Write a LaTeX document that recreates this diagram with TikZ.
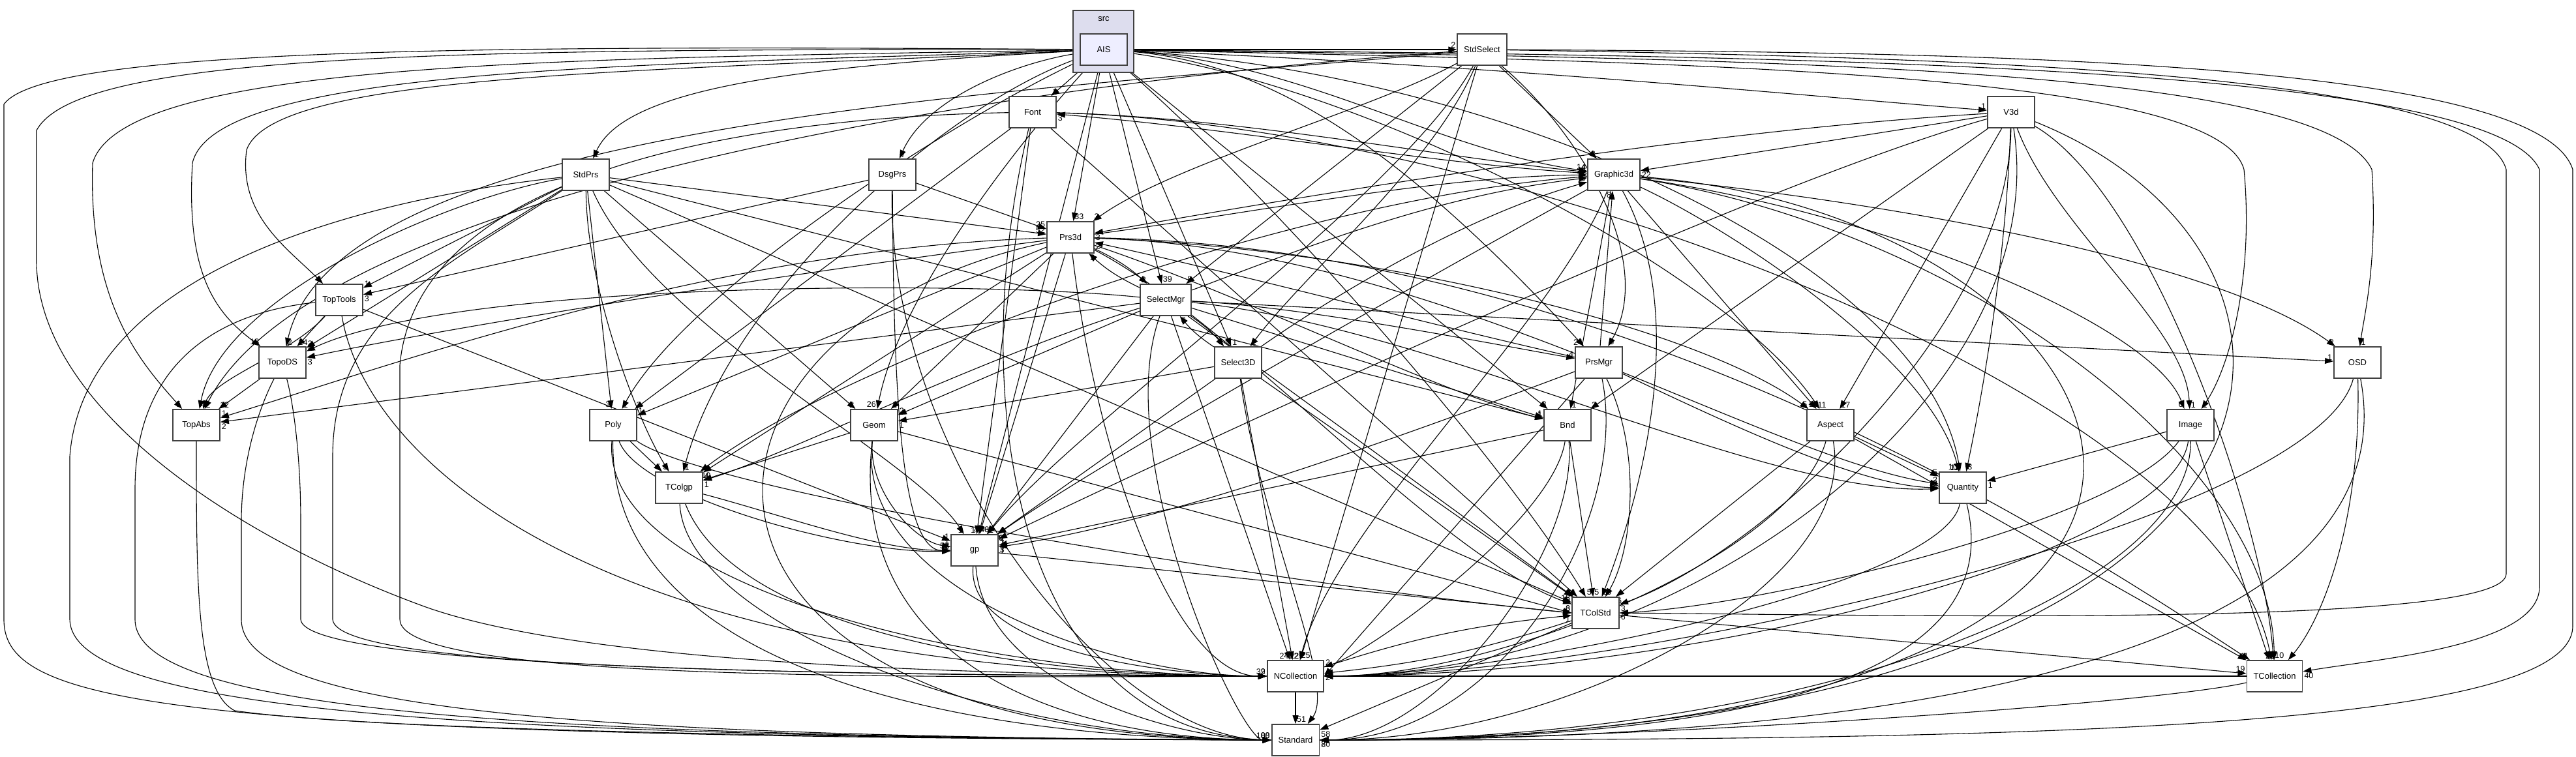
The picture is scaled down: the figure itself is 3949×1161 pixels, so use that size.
\documentclass[tikz,border=0pt]{standalone}
\usepackage{fontspec}
\setmainfont{Liberation Sans}
\usetikzlibrary{arrows.meta}
\definecolor{clfill}{HTML}{DDDDEE}
\definecolor{aisfill}{HTML}{EEEEFF}
\definecolor{nborder}{HTML}{404040}
\pgfdeclarelayer{bg}
\pgfsetlayers{bg,main}
\begin{document}
\begin{tikzpicture}[x=1pt,y=-1pt,
  nd/.style={draw=nborder, line width=1.8pt, fill=white, minimum width=72pt, minimum height=48pt, inner xsep=10pt, font=\fontsize{13}{15}\selectfont},
  e/.style={draw=black, line width=1.1pt, -{Triangle[length=13pt,width=9pt]}},
  lb/.style={pos=1, inner sep=1.5pt, font=\fontsize{12.5}{14}\selectfont},
  tr/.style={lb, anchor=south west},
  tl/.style={lb, anchor=south east},
  br/.style={lb, anchor=north west},
  bl/.style={lb, anchor=north east},
]
\useasboundingbox (0,0) rectangle (3949,1161);
% cluster
\node[draw=nborder, line width=1.8pt, fill=clfill, minimum width=93pt, minimum height=95pt, inner sep=0pt] (src) at (1691.5,63.5) {};
\node[font=\fontsize{13}{15}\selectfont] (srclbl) at (1692,29) {src};
% nodes
\node[nd, fill=aisfill] (AIS) at (1692,76) {AIS};
\node[nd] (StdSelect) at (2272,76) {StdSelect};
\node[nd] (Font) at (1583,172) {Font};
\node[nd] (V3d) at (3083,172) {V3d};
\node[nd] (DsgPrs) at (1368,268) {DsgPrs};
\node[nd] (StdPrs) at (898,268) {StdPrs};
\node[nd] (Graphic3d) at (2474,268) {Graphic3d};
\node[nd] (Prs3d) at (1641,364) {Prs3d};
\node[nd] (TopTools) at (520,460) {TopTools};
\node[nd] (SelectMgr) at (1787,460) {SelectMgr};
\node[nd] (TopoDS) at (433,556) {TopoDS};
\node[nd] (Select3D) at (1898,556) {Select3D};
\node[nd] (PrsMgr) at (2451,556) {PrsMgr};
\node[nd] (OSD) at (3614,556) {OSD};
\node[nd] (TopAbs) at (301,652) {TopAbs};
\node[nd] (Poly) at (940,652) {Poly};
\node[nd] (Geom) at (1340,652) {Geom};
\node[nd] (Bnd) at (2403,652) {Bnd};
\node[nd] (Aspect) at (2806,652) {Aspect};
\node[nd] (Image) at (3358,652) {Image};
\node[nd] (TColgp) at (1041,748) {TColgp};
\node[nd] (Quantity) at (3009,748) {Quantity};
\node[nd] (gp) at (1494,844) {gp};
\node[nd] (TColStd) at (2446,940) {TColStd};
\node[nd] (NCollection) at (1986,1037) {NCollection};
\node[nd] (TCollection) at (3487,1037) {TCollection};
\node[nd] (Standard) at (1986,1135) {Standard};

\begin{pgfonlayer}{bg}
% ---------------- AIS
\draw[e] (AIS) -- (StdSelect) node[tl]{2};
\draw[e] (AIS) -- (Font) node[tr]{1};
\draw[e] (AIS) .. controls (1560,95) and (1420,150) .. (DsgPrs) node[tr]{7};
\draw[e] (AIS) .. controls (1250,100) and (960,130) .. (StdPrs) node[tr]{1};
\draw[e] (AIS) .. controls (2300,100) and (2800,150) .. (V3d) node[tl]{1};
\draw[e] (AIS) .. controls (2000,95) and (2200,230) .. (Graphic3d) node[tl]{14};
\draw[e] (AIS) -- (Prs3d) node[tr]{33};
\draw[e] (AIS) -- (SelectMgr) node[tr]{39};
\draw[e] (AIS) -- (Select3D) node[tr]{1};
\draw[e] (AIS) .. controls (1950,95) and (2150,230) .. (PrsMgr) node[tl]{24};
\draw[e] (AIS) .. controls (1000,110) and (420,110) .. (378,230) .. controls (365,330) and (440,380) .. (TopTools) node[tl]{4};
\draw[e] (AIS) .. controls (1000,100) and (330,100) .. (295,250) .. controls (285,420) and (330,480) .. (TopoDS) node[tl]{18};
\draw[e] (AIS) .. controls (900,90) and (190,90) .. (142,250) .. controls (135,470) and (220,560) .. (TopAbs) node[tl]{5};
\draw[e] (AIS) .. controls (800,70) and (70,70) .. (6,160) -- (6,950) .. controls (6,1080) and (250,1130) .. (Standard.west) node[tl]{88};
\draw[e] (AIS) .. controls (700,75) and (120,80) .. (56,200) -- (56,400) .. controls (56,620) and (350,820) .. (650,930) .. controls (900,1020) and (1500,1035) .. (NCollection.west) node[tl]{39};
\draw[e] (AIS) .. controls (1450,190) and (1050,450) .. (Poly) node[tr]{1};
\draw[e] (AIS) .. controls (1560,220) and (1380,450) .. (Geom) node[tl]{26};
\draw[e] (AIS) -- (Bnd) node[tl]{3};
\draw[e] (AIS) .. controls (2100,130) and (2650,420) .. (Aspect) node[tl]{25};
\draw[e] (AIS) .. controls (2600,95) and (3400,110) .. (3440,260) .. controls (3455,420) and (3420,560) .. (Image) node[tr]{1};
\draw[e] (AIS) .. controls (1450,160) and (1120,450) .. (TColgp) node[tr]{1};
\draw[e] (AIS) .. controls (2300,110) and (2950,400) .. (Quantity) node[tl]{11};
\draw[e] (AIS) -- (gp) node[tr]{48};
\draw[e] (AIS) .. controls (1950,300) and (2300,700) .. (TColStd) node[tr]{5};
\draw[e] (AIS) .. controls (2700,85) and (3820,95) .. (3893,260) -- (3893,900) .. controls (3893,990) and (3650,1010) .. (TCollection) node[br]{40};
\draw[e] (AIS) .. controls (2700,90) and (3560,100) .. (3636,260) .. controls (3645,400) and (3625,480) .. (OSD) node[tr]{1};
% ---------------- StdSelect
\draw[e] (StdSelect) -- (Graphic3d) node[tl]{3};
\draw[e] (StdSelect) .. controls (2100,170) and (1800,250) .. (Prs3d) node[tr]{3};
\draw[e] (StdSelect) -- (SelectMgr) node[tr]{8};
\draw[e] (StdSelect) .. controls (2200,250) and (2000,420) .. (Select3D) node[tr]{2};
\draw[e] (StdSelect) .. controls (2420,200) and (2540,400) .. (PrsMgr) node[tr]{3};
\draw[e] (StdSelect) .. controls (1600,140) and (520,180) .. (TopoDS) node[tr]{2};
\draw[e] (StdSelect) .. controls (1500,130) and (480,300) .. (TopAbs) node[tr]{2};
\draw[e] (StdSelect) .. controls (3000,80) and (3890,90) .. (3944,260) -- (3944,960) .. controls (3944,1120) and (3100,1135) .. (Standard.east) node[br]{8};
\draw[e] (StdSelect) -- (NCollection) node[tl]{22};
\draw[e] (StdSelect) .. controls (3000,88) and (3800,110) .. (3842,260) -- (3842,880) .. controls (3842,960) and (3000,945) .. (TColStd.east) node[br]{6};
\draw[e] (StdSelect) .. controls (2150,300) and (1650,650) .. (gp) node[tr]{2};
% ---------------- Font
\draw[e] (Font) .. controls (1900,180) and (2200,240) .. (Graphic3d) node[tl]{4};
\draw[e] (Graphic3d) .. controls (2200,252) and (1900,198) .. (Font) node[br]{3};
\draw[e] (Font) -- (Poly) node[tr]{2};
\draw[e] (Font) -- (gp) node[tl]{1};
\draw[e] (Font) -- (TColStd) node[tl]{1};
\draw[e] (Font) .. controls (1150,180) and (640,260) .. (613,560) -- (613,950) .. controls (613,1040) and (1300,1040) .. (NCollection.west) node[tl]{2};
\draw[e] (Font) .. controls (1480,600) and (1550,1120) .. (Standard.west);
\draw[e] (Font) .. controls (2300,190) and (3400,600) .. (TCollection) node[tl]{2};
% ---------------- V3d
\draw[e] (V3d) -- (Graphic3d) node[br]{22};
\draw[e] (V3d) .. controls (2600,200) and (2000,300) .. (Prs3d) node[br]{3};
\draw[e] (V3d) -- (Aspect) node[tr]{17};
\draw[e] (V3d) -- (Bnd) node[tr]{2};
\draw[e] (V3d) .. controls (3075,400) and (3040,600) .. (Quantity) node[tr]{3};
\draw[e] (V3d) .. controls (3150,350) and (3350,500) .. (Image) node[tr]{1};
\draw[e] (V3d) .. controls (3080,500) and (2700,850) .. (TColStd) node[br]{3};
\draw[e] (V3d) .. controls (3300,300) and (3470,800) .. (TCollection) node[tr]{10};
\draw[e] (V3d) .. controls (3650,400) and (3600,1135) .. (Standard.east);
\draw[e] (V3d) .. controls (3150,600) and (2600,1030) .. (NCollection.east);
\draw[e] (V3d) .. controls (2700,280) and (1900,650) .. (gp) node[br]{7};
% ---------------- DsgPrs
\draw[e] (DsgPrs) -- (Prs3d) node[tl]{25};
\draw[e] (DsgPrs) -- (TopTools) node[br]{3};
\draw[e] (DsgPrs) .. controls (1370,600) and (1380,845) .. (gp) node[tl]{5};
\draw[e] (DsgPrs) .. controls (1360,700) and (1700,1130) .. (Standard.west);
% ---------------- StdPrs
\draw[e] (StdPrs) -- (Prs3d) node[tl]{52};
\draw[e] (StdPrs) -- (TopTools) node[tr]{1};
\draw[e] (StdPrs) -- (TopoDS) node[tr]{3};
\draw[e] (StdPrs) .. controls (700,300) and (340,450) .. (TopAbs) node[tr]{4};
\draw[e] (StdPrs) -- (Poly) node[tl]{3};
\draw[e] (StdPrs) -- (Geom) node[tl]{2};
\draw[e] (StdPrs) .. controls (900,450) and (980,650) .. (TColgp) node[tl]{5};
\draw[e] (StdPrs) -- (TColStd) node[tl]{18};
\draw[e] (StdPrs) -- (Bnd) node[tl]{1};
\draw[e] (StdPrs) .. controls (1000,500) and (1400,700) .. (gp) node[tl]{1};
\draw[e] (StdPrs) .. controls (600,300) and (130,400) .. (107,700) -- (107,950) .. controls (110,1090) and (700,1130) .. (Standard.west);
\draw[e] (StdPrs) .. controls (700,400) and (510,480) .. (510,700) -- (510,950) .. controls (515,1025) and (1200,1035) .. (NCollection.west);
% ---------------- Graphic3d
\draw[e] (Graphic3d) -- (Bnd) node[tr]{1};
\draw[e] (Graphic3d) -- (Aspect) node[tr]{11};
\draw[e] (Graphic3d) .. controls (2650,350) and (2960,550) .. (Quantity) node[tl]{10};
\draw[e] (Graphic3d) .. controls (2600,500) and (2500,800) .. (TColStd) node[tr]{3};
\draw[e] (Graphic3d) .. controls (2380,500) and (2050,800) .. (NCollection) node[tr]{25};
\draw[e] (Graphic3d) .. controls (3300,330) and (3700,1135) .. (Standard.east);
\draw[e] (Graphic3d) .. controls (3000,350) and (3480,700) .. (TCollection) node[tl]{2};
\draw[e] (Graphic3d) .. controls (2900,330) and (3300,500) .. (Image) node[tl]{6};
\draw[e] (Graphic3d) .. controls (2900,310) and (3400,400) .. (OSD) node[tl]{2};
\draw[e] (Graphic3d) .. controls (2200,420) and (1700,700) .. (gp) node[br]{3};
\draw[e] (Graphic3d) .. controls (2000,300) and (1300,550) .. (TColgp) node[br]{10};
% ---------------- Prs3d
\draw[e] (Prs3d) .. controls (1900,330) and (2200,270) .. (Graphic3d) node[tl]{25};
\draw[e] (Prs3d) to[bend left=8] node[tl]{2} (SelectMgr);
\draw[e] (SelectMgr) to[bend left=8] node[br]{2} (Prs3d);
\draw[e] (Prs3d) .. controls (1200,420) and (700,500) .. (TopoDS) node[br]{3};
\draw[e] (Prs3d) .. controls (1100,380) and (600,560) .. (TopAbs) node[tr]{1};
\draw[e] (Prs3d) -- (Poly) node[tr]{1};
\draw[e] (Prs3d) -- (Geom) node[tr]{2};
\draw[e] (Prs3d) -- (TColgp) node[tr]{4};
\draw[e] (Prs3d) -- (gp) node[tl]{4};
\draw[e] (Prs3d) .. controls (1900,450) and (2200,600) .. (Bnd) node[tl]{1};
\draw[e] (Prs3d) .. controls (2100,380) and (2600,500) .. (Aspect) node[tl]{5};
\draw[e] (Prs3d) .. controls (2200,380) and (2700,700) .. (Quantity) node[tl]{2};
\draw[e] (Prs3d) .. controls (1900,500) and (2200,850) .. (TColStd) node[tl]{5};
\draw[e] (Prs3d) .. controls (1680,700) and (1800,1037) .. (NCollection.west);
\draw[e] (Prs3d) .. controls (1000,500) and (950,1130) .. (Standard.west);
\draw[e] (Prs3d) .. controls (2500,380) and (3200,850) .. (TCollection) node[tl]{1};
% ---------------- SelectMgr
\draw[e] (SelectMgr) to[bend left=8] node[tl]{6} (Select3D);
\draw[e] (Select3D) to[bend left=8] node[br]{8} (SelectMgr);
\draw[e] (SelectMgr) .. controls (2000,380) and (2200,300) .. (Graphic3d) node[tl]{1};
\draw[e] (SelectMgr) .. controls (2000,470) and (2300,530) .. (PrsMgr) node[tl]{4};
\draw[e] (SelectMgr) -- (TopAbs) node[br]{2};
\draw[e] (SelectMgr) .. controls (1500,430) and (700,430) .. (TopoDS) node[tr]{2};
\draw[e] (SelectMgr) -- (Bnd) node[tl]{1};
\draw[e] (SelectMgr) -- (gp) node[tr]{2};
\draw[e] (SelectMgr) .. controls (1500,550) and (1200,700) .. (TColgp) node[br]{1};
\draw[e] (SelectMgr) -- (TColStd) node[tl]{1};
\draw[e] (SelectMgr) -- (NCollection) node[tl]{24};
\draw[e] (SelectMgr) .. controls (1700,700) and (1900,1135) .. (Standard.west);
\draw[e] (SelectMgr) -- (OSD) node[tl]{1};
\draw[e] (SelectMgr) -- (Geom) node[tr]{2};
\draw[e] (SelectMgr) .. controls (2200,500) and (2700,760) .. (Quantity) node[tl]{2};
% ---------------- Select3D
\draw[e] (Select3D) .. controls (2050,450) and (2250,330) .. (Graphic3d) node[tl]{5};
\draw[e] (Select3D) -- (Geom) node[br]{1};
\draw[e] (Select3D) -- (gp) node[br]{6};
\draw[e] (Select3D) -- (TColStd) node[tl]{8};
\draw[e] (Select3D) -- (NCollection) node[tr]{2};
\draw[e] (Select3D) .. controls (1930,800) and (2050,1050) .. (Standard) node[tr]{};
% ---------------- PrsMgr
\draw[e] (PrsMgr) -- (Graphic3d) node[bl]{8};
\draw[e] (PrsMgr) .. controls (2200,500) and (1900,420) .. (Prs3d) node[br]{2};
\draw[e] (PrsMgr) .. controls (2650,650) and (2850,745) .. (Quantity.west) node[tl]{2};
\draw[e] (PrsMgr) .. controls (2520,700) and (2500,850) .. (TColStd) node[tr]{6};
\draw[e] (PrsMgr) -- (NCollection.east);
\draw[e] (PrsMgr) .. controls (2500,800) and (2300,1135) .. (Standard.east);
\draw[e] (PrsMgr) .. controls (2200,650) and (1800,800) .. (gp) node[br]{1};
% ---------------- OSD
\draw[e] (OSD) .. controls (3620,800) and (3560,950) .. (TCollection) node[br]{3};
\draw[e] (OSD) .. controls (3550,800) and (2500,1037) .. (NCollection.east);
\draw[e] (OSD) .. controls (3660,800) and (3500,1135) .. (Standard.east);
% ---------------- TopTools
\draw[e] (TopTools) -- (TopoDS) node[tr]{24};
\draw[e] (TopTools) .. controls (450,540) and (330,580) .. (TopAbs) node[tr]{2};
\draw[e] (TopTools) -- (gp) node[tl]{1};
\draw[e] (TopTools) .. controls (330,480) and (207,560) .. (207,750) -- (207,950) .. controls (207,1090) and (800,1130) .. (Standard.west);
\draw[e] (TopTools) .. controls (560,700) and (900,1037) .. (NCollection.west);
% ---------------- TopoDS
\draw[e] (TopoDS) -- (TopAbs) node[tr]{12};
\draw[e] (TopoDS) .. controls (400,620) and (370,700) .. (370,800) -- (370,950) .. controls (370,1090) and (900,1130) .. (Standard.west);
\draw[e] (TopoDS) .. controls (450,620) and (461,700) .. (461,800) -- (461,950) .. controls (465,1020) and (1200,1037) .. (NCollection.west);
% ---------------- TopAbs
\draw[e] (TopAbs) .. controls (301,900) and (301,1060) .. (360,1090) .. controls (600,1125) and (1500,1133) .. (Standard.west) node[tl]{100};
% ---------------- Poly
\draw[e] (Poly) -- (TColgp) node[tl]{5};
\draw[e] (Poly) .. controls (980,760) and (1300,850) .. (gp) node[tl]{7};
\draw[e] (Poly) .. controls (920,900) and (1500,1037) .. (NCollection.west);
\draw[e] (Poly) .. controls (935,1000) and (1400,1132) .. (Standard.west);
\draw[e] (Poly) .. controls (1100,760) and (2000,900) .. (TColStd.west) node[tl]{6};
% ---------------- Geom
\draw[e] (Geom) .. controls (1330,750) and (1400,830) .. (gp) node[tl]{1};
\draw[e] (Geom) -- (TColgp) node[tr]{4};
\draw[e] (Geom) .. controls (1310,900) and (1700,1037) .. (NCollection.west);
\draw[e] (Geom) .. controls (1300,1000) and (1600,1133) .. (Standard.west);
\draw[e] (Geom) -- (TColStd.west);
% ---------------- Bnd
\draw[e] (Bnd) -- (gp) node[br]{3};
\draw[e] (Bnd) -- (TColStd) node[tr]{5};
\draw[e] (Bnd) .. controls (2380,800) and (2100,1000) .. (NCollection) node[tr]{2};
\draw[e] (Bnd) .. controls (2420,850) and (2200,1135) .. (Standard.east);
% ---------------- Aspect
\draw[e] (Aspect) -- (Quantity) node[tl]{5};
\draw[e] (Aspect) -- (TColStd) node[br]{6};
\draw[e] (Aspect) .. controls (2750,850) and (2300,1037) .. (NCollection.east);
\draw[e] (Aspect) .. controls (2850,900) and (2400,1135) .. (Standard.east);
\draw[e] (Aspect) -- (TCollection) node[tl]{1};
% ---------------- Image
\draw[e] (Image) -- (Quantity) node[br]{1};
\draw[e] (Image) .. controls (3250,800) and (2700,930) .. (TColStd.east);
\draw[e] (Image) .. controls (3330,850) and (2600,1037) .. (NCollection.east);
\draw[e] (Image) .. controls (3360,900) and (2800,1135) .. (Standard.east);
\draw[e] (Image) -- (TCollection) node[tr]{2};
% ---------------- TColgp
\draw[e] (TColgp) .. controls (1200,790) and (1350,845) .. (gp.west) node[tl]{57};
\draw[e] (TColgp) .. controls (1120,950) and (1500,1037) .. (NCollection.west);
\draw[e] (TColgp) .. controls (1050,950) and (1500,1133) .. (Standard.west);
% ---------------- Quantity
\draw[e] (Quantity) .. controls (3070,1000) and (2800,1135) .. (Standard.east) node[br]{20};
\draw[e] (Quantity) .. controls (2980,900) and (2300,1037) .. (NCollection.east);
% ---------------- gp
\draw[e] (gp) .. controls (1480,1000) and (1800,1037) .. (NCollection.west);
\draw[e] (gp) .. controls (1510,1050) and (1800,1133) .. (Standard.west);
\draw[e] (gp) -- (TColStd.west) node[tl]{3};
% ---------------- TColStd
\draw[e] (TColStd) to[bend left=6] node[br]{2} (NCollection);
\draw[e] (NCollection) to[bend left=6] node[bl]{1} (TColStd);
\draw[e] (TColStd) -- (Standard) node[br]{58};
\draw[e] (TColStd) -- (TCollection) node[tl]{19};
% ---------------- NCollection / TCollection
\draw[e] (NCollection) -- (Standard) node[tr]{51};
\draw[e] (TCollection) .. controls (3300,1080) and (2500,1135) .. (Standard.east);
\draw[e] (TCollection) -- (NCollection.east);
\end{pgfonlayer}
\end{tikzpicture}
\end{document}
